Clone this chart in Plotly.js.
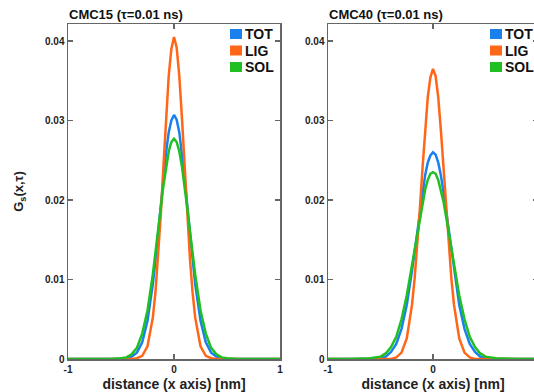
<!DOCTYPE html>
<html>
<head>
<meta charset="utf-8">
<script src="https://cdn.plot.ly/plotly-3.0.1.min.js"></script>
<style>
  html, body { margin: 0; padding: 0; width: 534px; height: 392px; overflow: hidden; background: #fff; }
  #chart { width: 545px; height: 392px; }
</style>
</head>
<body>
<div id="chart"></div>
<script>
// distance along x axis [nm]
const distance = [-1, -0.8, -0.6, -0.5, -0.45, -0.4, -0.35, -0.3, -0.25, -0.2, -0.175, -0.15, -0.125, -0.1, -0.075, -0.05, -0.025,
  0, 0.025, 0.05, 0.075, 0.1, 0.125, 0.15, 0.175, 0.2, 0.25, 0.3, 0.35, 0.4, 0.45, 0.5, 0.6, 0.8, 1];

const seriesNames = ["TOT", "LIG", "SOL"];
const panelTitles = ["CMC15 (τ=0.01 ns)", "CMC40 (τ=0.01 ns)"];

// CMC15 panel
const cmc15_TOT = [0, 0, 0, 0, 0.0001, 0.0003, 0.0008, 0.0021, 0.0048, 0.0094, 0.0124, 0.0158, 0.0193, 0.0228, 0.0260, 0.0285, 0.0300,
  0.0307, 0.0301, 0.0285, 0.0260, 0.0228, 0.0193, 0.0158, 0.0124, 0.0094, 0.0048, 0.0021, 0.0008, 0.0003, 0.0001, 0, 0, 0, 0];
const cmc15_LIG = [0, 0, 0, 0, 0, 0, 0.0001, 0.0004, 0.0016, 0.0052, 0.0084, 0.0127, 0.0181, 0.0242, 0.0303, 0.0356, 0.0390,
  0.0405, 0.0392, 0.0356, 0.0303, 0.0242, 0.0181, 0.0127, 0.0084, 0.0052, 0.0016, 0.0004, 0.0001, 0, 0, 0, 0, 0, 0];
const cmc15_SOL = [0, 0, 0, 0.0001, 0.0002, 0.0006, 0.0014, 0.0032, 0.0061, 0.0106, 0.0132, 0.0161, 0.0190, 0.0218, 0.0242, 0.0261, 0.0273,
  0.0277, 0.0273, 0.0261, 0.0242, 0.0218, 0.0190, 0.0161, 0.0132, 0.0106, 0.0061, 0.0032, 0.0014, 0.0006, 0.0002, 0.0001, 0, 0, 0];

// CMC40 panel
const cmc40_TOT = [0, 0, 0, 0.0001, 0.0003, 0.0009, 0.0019, 0.0038, 0.0068, 0.0111, 0.0135, 0.0161, 0.0186, 0.0210, 0.0231, 0.0247, 0.0256,
  0.0260, 0.0257, 0.0247, 0.0231, 0.0210, 0.0186, 0.0161, 0.0135, 0.0111, 0.0068, 0.0038, 0.0019, 0.0009, 0.0003, 0.0001, 0, 0, 0];
const cmc40_LIG = [0, 0, 0, 0, 0, 0, 0.0002, 0.0008, 0.0026, 0.0068, 0.0101, 0.0142, 0.0189, 0.0240, 0.0288, 0.0329, 0.0354,
  0.0365, 0.0356, 0.0329, 0.0288, 0.0240, 0.0189, 0.0142, 0.0101, 0.0068, 0.0026, 0.0008, 0.0002, 0, 0, 0, 0, 0, 0];
const cmc40_SOL = [0, 0, 0.0001, 0.0003, 0.0007, 0.0015, 0.0028, 0.0050, 0.0080, 0.0118, 0.0138, 0.0159, 0.0179, 0.0198, 0.0213, 0.0225, 0.0233,
  0.0235, 0.0233, 0.0225, 0.0213, 0.0198, 0.0179, 0.0159, 0.0138, 0.0118, 0.0080, 0.0050, 0.0028, 0.0015, 0.0007, 0.0003, 0.0001, 0, 0];

const xTickVals15 = [-1, 0, 1];
const xTickText15 = ["-1", "0", "1"];
const xTickVals40 = [-1, 0];          // the right panel's "1" falls outside the picture
const xTickText40 = ["-1", "0"];
const yTickVals = [0, 0.01, 0.02, 0.03, 0.04];
const yTickText = ["0", "0.01", "0.02", "0.03", "0.04"];

const colors = ["#1a80ee", "#ff6618", "#20bf22"];
const panels = [
  {xa: "x", ya: "y", data: [cmc15_TOT, cmc15_LIG, cmc15_SOL]},
  {xa: "x2", ya: "y2", data: [cmc40_TOT, cmc40_LIG, cmc40_SOL]}
];

const FONT = "Liberation Sans, Arial, Helvetica, sans-serif";
const traces = [];
panels.forEach(p => {
  p.data.forEach((ys, i) => {
    traces.push({
      type: "scatter", mode: "lines", x: distance, y: ys,
      xaxis: p.xa, yaxis: p.ya, name: seriesNames[i], showlegend: false,
      line: {color: colors[i], width: 2.5, shape: "linear"}
    });
  });
});

const axisLine = "#666";
function xAxis(domain, anchor, tickvals, ticktext) {
  return {
    domain: domain, anchor: anchor, range: [-1, 1],
    tickvals: tickvals, ticktext: ticktext,
    ticks: "inside", ticklen: 5, tickwidth: 1.3, tickcolor: axisLine,
    showline: true, linecolor: axisLine, linewidth: 1.5, mirror: "ticks",
    showgrid: false, zeroline: false,
    tickfont: {family: FONT, size: 10, color: "#222", weight: "bold"},
    title: {text: "distance (x axis) [nm]", standoff: 9,
      font: {family: FONT, size: 14, color: "#222", weight: "bold"}},
    automargin: false
  };
}
function yAxis(anchor, withTitle) {
  const a = {
    domain: [0, 1], anchor: anchor, range: [0, 0.04214],
    tickvals: yTickVals, ticktext: yTickText,
    ticks: "inside", ticklen: 5, tickwidth: 1.3, tickcolor: axisLine,
    showline: true, linecolor: axisLine, linewidth: 1.5, mirror: "ticks",
    showgrid: false, zeroline: false,
    tickfont: {family: FONT, size: 10, color: "#222", weight: "bold"},
    automargin: false
  };
  if (withTitle) {
    a.title = {text: "G<sub>s</sub>(x,τ)", standoff: 18,
      font: {family: FONT, size: 13, color: "#222", weight: "bold"}};
  }
  return a;
}

const shapes = [];
const annotations = [];
[["x", "y"], ["x2", "y2"]].forEach((refs, k) => {
  annotations.push({
    xref: refs[0] + " domain", yref: refs[1] + " domain", x: 0, y: 1,
    xanchor: "left", yanchor: "bottom", showarrow: false, xshift: -1, yshift: 0,
    text: panelTitles[k], font: {family: FONT, size: 13, color: "#111", weight: "bold"}
  });
  seriesNames.forEach((nm, i) => {
    const top = -5 - i * 16.5;
    shapes.push({
      type: "rect", xref: refs[0] + " domain", yref: refs[1] + " domain",
      xsizemode: "pixel", ysizemode: "pixel", xanchor: 0, yanchor: 1,
      x0: 162, x1: 174, y0: top, y1: top - 10,
      fillcolor: colors[i], line: {width: 0}
    });
    annotations.push({
      xref: refs[0] + " domain", yref: refs[1] + " domain", x: 0, y: 1,
      xanchor: "left", yanchor: "middle", showarrow: false,
      xshift: 175, yshift: top - 5,
      text: nm, font: {family: FONT, size: 14, color: "#111", weight: "bold"}
    });
  });
});

const layout = {
  width: 545, height: 392,
  margin: {l: 68, r: 7, t: 24, b: 33},
  paper_bgcolor: "#fff", plot_bgcolor: "#fff",
  showlegend: false,
  xaxis: xAxis([0, 0.4511], "y", xTickVals15, xTickText15),
  xaxis2: xAxis([0.5532, 1], "y2", xTickVals40, xTickText40),
  yaxis: yAxis("x", true),
  yaxis2: yAxis("x2", false),
  shapes: shapes,
  annotations: annotations
};

Plotly.newPlot("chart", traces, layout, {staticPlot: true, displayModeBar: false});
</script>
</body>
</html>
